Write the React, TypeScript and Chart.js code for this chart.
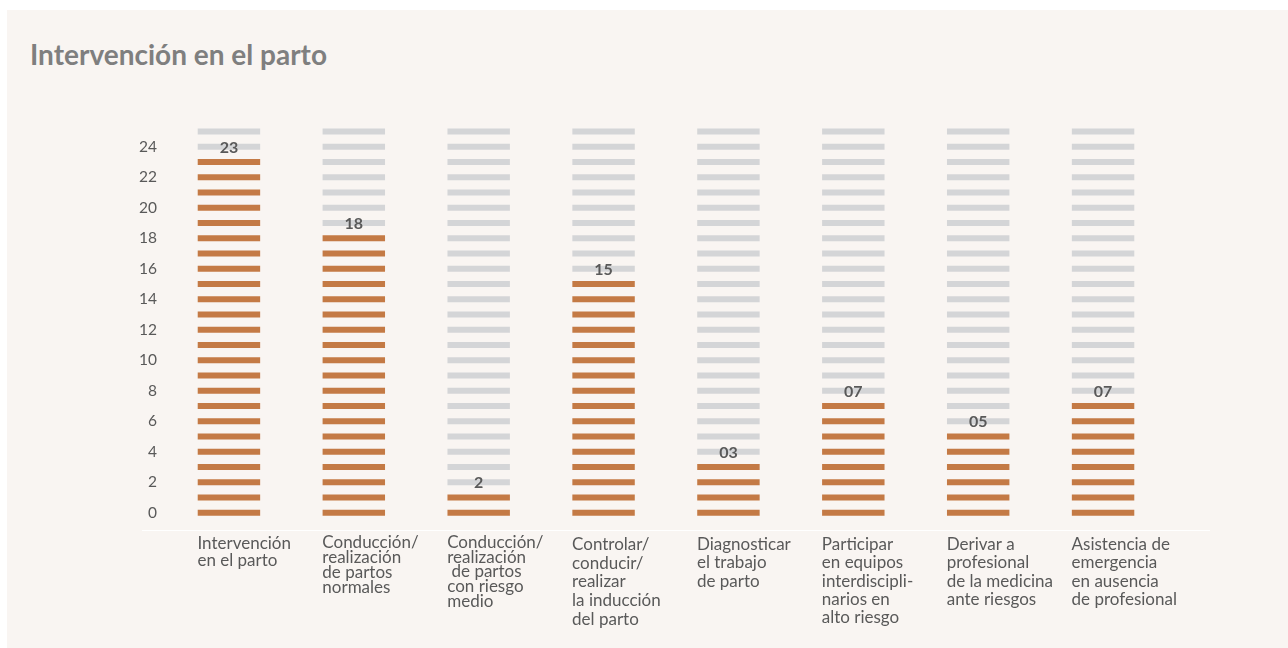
import React, { useEffect, useRef } from "react";
import { Chart, registerables } from "chart.js";

Chart.register(...registerables);

// ---- data ----
const categories: string[][] = [
  ["Intervención", "en el parto"],
  ["Conducción/", "realización", "de partos", "normales"],
  ["Conducción/", "realización", " de partos", "con riesgo", "medio"],
  ["Controlar/", "conducir/", "realizar", "la inducción", "del parto"],
  ["Diagnosticar", "el trabajo", "de parto"],
  ["Participar", "en equipos", "interdiscipli-", "narios en", "alto riesgo"],
  ["Derivar a", "profesional", "de la medicina", "ante riesgos"],
  ["Asistencia de", "emergencia", "en ausencia", "de profesional"],
];
const valueLabels: string[] = ["23", "18", "2", "15", "03", "07", "05", "07"];
const filledSegments: number[] = [24, 19, 2, 16, 4, 8, 6, 8];
const totalSegments = 26;
const yTicks: number[] = [0, 2, 4, 6, 8, 10, 12, 14, 16, 18, 20, 22, 24];

// ---- style ----
const ORANGE = "#c47a45";
const GRAY = "#d4d5d7";
const TEXT = "#595959";
const BG = "#f9f5f2";
const FONT = "Lato, 'Open Sans', sans-serif";
const labelLineHeights = [16.5, 15, 14.6, 18.6, 18.3, 18.3, 18.3, 18.3];
const HALF = 0.2;

export default function App() {
  const ref = useRef<HTMLCanvasElement | null>(null);

  useEffect(() => {
    if (!ref.current) return;
    const datasets = [] as any[];
    for (let k = 0; k < totalSegments; k++) {
      datasets.push({
        data: categories.map(() => [k - HALF, k + HALF]),
        backgroundColor: filledSegments.map((f) => (k < f ? ORANGE : GRAY)),
        borderWidth: 0,
        grouped: false,
        barPercentage: 0.5,
        categoryPercentage: 1,
      });
    }

    const overlay = {
      id: "overlay",
      beforeDatasetsDraw(chart: any) {
        const { ctx, chartArea } = chart;
        ctx.save();
        ctx.strokeStyle = "#ffffff";
        ctx.lineWidth = 1;
        ctx.beginPath();
        ctx.moveTo(chartArea.left - 24.5, Math.round(chartArea.bottom) + 0.5);
        ctx.lineTo(chartArea.right + 44.5, Math.round(chartArea.bottom) + 0.5);
        ctx.stroke();
        ctx.restore();
      },
      afterDatasetsDraw(chart: any) {
        const { ctx } = chart;
        const xs = chart.scales.x;
        const ys = chart.scales.y;
        ctx.save();
        ctx.fillStyle = TEXT;
        ctx.font = `bold 16px ${FONT}`;
        ctx.textAlign = "center";
        ctx.textBaseline = "middle";
        valueLabels.forEach((lab, i) => {
          ctx.fillText(lab, xs.getPixelForValue(i), ys.getPixelForValue(filledSegments[i]) + 1);
        });
        ctx.restore();
      },
    };

    const chart = new Chart(ref.current, {
      type: "bar",
      data: { labels: categories as any, datasets },
      options: {
        animation: false,
        responsive: false,
        layout: { padding: { left: 99.5, right: 122.5, top: 112.3, bottom: 18.5 } },
        plugins: { legend: { display: false }, tooltip: { enabled: false } },
        scales: {
          x: {
            type: "category",
            grid: { display: false, drawTicks: false },
            border: { display: false },
            afterFit: (s: any) => {
              s.height = 100;
            },
            ticks: {
              autoSkip: false,
              maxRotation: 0,
              minRotation: 0,
              align: "start",
              labelOffset: -31.5,
              padding: 6,
              color: TEXT,
              font: (ctx: any) => ({
                family: FONT,
                size: 17,
                lineHeight: `${labelLineHeights[ctx.index] ?? 18.3}px`,
              }),
            },
          },
          y: {
            min: -1.1,
            max: 25.6,
            grid: { display: false, drawTicks: false },
            border: { display: false },
            afterFit: (s: any) => {
              s.width = 60;
            },
            afterBuildTicks: (s: any) => {
              s.ticks = yTicks.map((v) => ({ value: v }));
            },
            ticks: {
              padding: 9.5,
              color: TEXT,
              font: { family: FONT, size: 15.5 },
            },
          },
        },
      } as any,
      plugins: [overlay],
    });
    return () => chart.destroy();
  }, []);

  return (
    <div
      style={{
        position: "absolute",
        left: 7,
        top: 10,
        width: 1281,
        height: 638,
        background: BG,
      }}
    >
      <div
        style={{
          position: "absolute",
          left: 23,
          top: 27,
          fontFamily: FONT,
          fontWeight: 700,
          fontSize: 28,
          lineHeight: "34px",
          color: "#7f7f7f",
          whiteSpace: "nowrap",
        }}
      >
        Intervención en el parto
      </div>
      <canvas ref={ref} width={1281} height={638} style={{ position: "absolute", left: 0, top: 0 }} />
    </div>
  );
}
